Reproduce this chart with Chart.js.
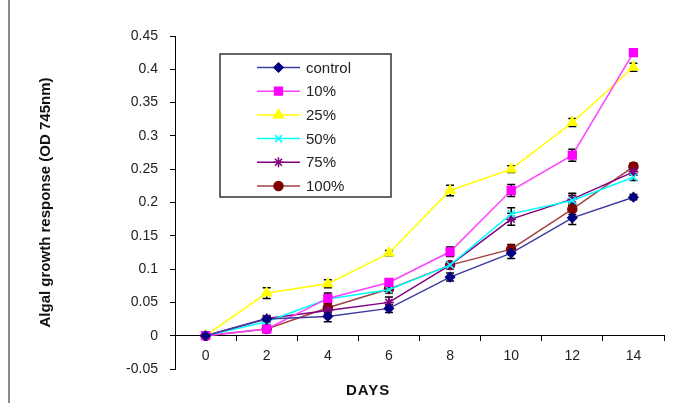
<!DOCTYPE html>
<html>
<head>
<meta charset="utf-8">
<script src="https://cdn.jsdelivr.net/npm/chart.js@4.4.1/dist/chart.umd.min.js"></script>
<style>
  html, body { margin: 0; padding: 0; background: #fff; }
  #wrap { position: relative; width: 680px; height: 403px; }
  #frame { position: absolute; left: 8px; top: 0; width: 0; height: 403px; border-left: 2px solid #8a8a8a; }
  #xTitle { position: absolute; left: 346px; top: 381px; font: bold 15px "Liberation Sans", Arial, sans-serif; letter-spacing: 1px; color: #111; }
</style>
</head>
<body>
<div id="wrap">
  <canvas id="growthChart" width="680" height="403"></canvas>
  <div id="frame"></div>
  <div id="xTitle">DAYS</div>
</div>
<script>
// ---- data ----
const days = ['0', '2', '4', '6', '8', '10', '12', '14'];
const seriesNames = ['control', '10%', '25%', '50%', '75%', '100%'];

const controlVals = [0, 0.025, 0.029, 0.041, 0.088, 0.124, 0.177, 0.208];
const pct10Vals   = [0, 0.010, 0.056, 0.080, 0.126, 0.218, 0.271, 0.425];
const pct25Vals   = [0, 0.064, 0.078, 0.124, 0.218, 0.250, 0.320, 0.403];
const pct50Vals   = [0, 0.021, 0.055, 0.069, 0.106, 0.183, 0.203, 0.238];
const pct75Vals   = [0, 0.026, 0.038, 0.050, 0.106, 0.175, 0.205, 0.246];
const pct100Vals  = [0, 0.010, 0.042, 0.070, 0.106, 0.130, 0.190, 0.254];

// error bar half-heights
const controlErr = [0, 0.004, 0.008, 0.006, 0.006, 0.008, 0.010, 0.004];
const pct10Err   = [0, 0.004, 0.008, 0.005, 0.007, 0.009, 0.009, 0.004];
const pct25Err   = [0, 0.008, 0.006, 0.004, 0.008, 0.005, 0.006, 0.006];
const pct50Err   = [0, 0.004, 0.005, 0.005, 0.005, 0.009, 0.008, 0.005];
const pct75Err   = [0, 0.004, 0.006, 0.008, 0.005, 0.009, 0.009, 0.005];
const pct100Err  = [0, 0.004, 0.007, 0.005, 0.005, 0.007, 0.008, 0.005];

const FONT = '"Liberation Sans", Arial, sans-serif';

function series(label, data, err, line, marker, style, radius) {
    return {
        label: label, data: data, errors: err,
        borderColor: line, borderWidth: 1.5,
        pointStyle: style, pointRadius: radius, pointHoverRadius: radius,
        pointBackgroundColor: marker, pointBorderColor: marker, pointBorderWidth: 1.5,
        tension: 0, fill: false
    };
}

const datasets = [
    series(seriesNames[0], controlVals, controlErr, '#3c3ca0', '#000080', 'rectRot', 4.5),
    series(seriesNames[1], pct10Vals, pct10Err, '#ff40ff', '#ff00ff', 'rect', 5.5),
    series(seriesNames[2], pct25Vals, pct25Err, '#ffff00', '#ffff00', 'triangle', 5.5),
    series(seriesNames[3], pct50Vals, pct50Err, '#00ffff', '#00ffff', 'crossRot', 5),
    series(seriesNames[4], pct75Vals, pct75Err, '#800080', '#800080', 'star', 5),
    series(seriesNames[5], pct100Vals, pct100Err, '#a04040', '#800000', 'circle', 4.5)
];

// black I-shaped error bars, drawn behind the markers
const errorBars = {
    id: 'errorBars',
    beforeDatasetsDraw(chart) {
        const ctx = chart.ctx;
        const y = chart.scales.y;
        ctx.save();
        ctx.strokeStyle = '#000';
        ctx.lineWidth = 1.5;
        chart.data.datasets.forEach((ds, i) => {
            const meta = chart.getDatasetMeta(i);
            ds.data.forEach((v, j) => {
                const e = ds.errors[j];
                if (!e) return;
                const px = meta.data[j].x;
                const top = y.getPixelForValue(v + e);
                const bot = y.getPixelForValue(v - e);
                ctx.beginPath();
                ctx.moveTo(px, top); ctx.lineTo(px, bot);
                ctx.moveTo(px - 4, top); ctx.lineTo(px + 4, top);
                ctx.moveTo(px - 4, bot); ctx.lineTo(px + 4, bot);
                ctx.stroke();
            });
        });
        ctx.restore();
    }
};

// boxed legend sitting inside the plot, like the original
const boxLegend = {
    id: 'boxLegend',
    afterDraw(chart) {
        const ctx = chart.ctx;
        ctx.save();
        ctx.fillStyle = '#fff';
        ctx.fillRect(220, 54, 171, 143);
        ctx.strokeStyle = '#333';
        ctx.lineWidth = 1.5;
        ctx.strokeRect(220, 54, 171, 143);
        chart.data.datasets.forEach((ds, i) => {
            const ry = 67.5 + i * 23.7;
            ctx.strokeStyle = ds.borderColor;
            ctx.lineWidth = 1.5;
            ctx.beginPath();
            ctx.moveTo(257, ry); ctx.lineTo(300, ry);
            ctx.stroke();
            ctx.fillStyle = ds.pointBackgroundColor;
            ctx.strokeStyle = ds.pointBorderColor;
            Chart.helpers.drawPoint(ctx, { pointStyle: ds.pointStyle, radius: ds.pointRadius, rotation: 0, borderWidth: 1.5 }, 278.5, ry);
            ctx.fillStyle = '#222';
            ctx.font = '15px ' + FONT;
            ctx.textBaseline = 'middle';
            ctx.textAlign = 'left';
            ctx.fillText(ds.label, 306, ry + 1);
        });
        ctx.restore();
    }
};

new Chart(document.getElementById('growthChart').getContext('2d'), {
    type: 'line',
    data: { labels: days, datasets: datasets },
    options: {
        responsive: false,
        animation: false,
        layout: { padding: { left: 0, right: 16, top: 36, bottom: 34 } },
        plugins: { legend: { display: false }, tooltip: { enabled: false } },
        scales: {
            x: {
                type: 'category',
                position: { y: 0 },
                offset: true,
                grid: { offset: true, drawOnChartArea: false, drawTicks: true, tickLength: 5, color: '#000', lineWidth: 1 },
                border: { display: true, color: '#000', width: 1 },
                ticks: { color: '#222', font: { family: FONT, size: 14 }, padding: 7, maxRotation: 0 }
            },
            y: {
                min: -0.05, max: 0.45,
                afterFit(scale) { scale.width = 175; },
                grid: { drawOnChartArea: false, drawTicks: true, tickLength: 5, color: '#000', lineWidth: 1 },
                border: { display: true, color: '#000', width: 1 },
                ticks: {
                    stepSize: 0.05, color: '#222', font: { family: FONT, size: 14 }, padding: 12,
                    callback: v => String(parseFloat(v.toFixed(2)))
                },
                title: {
                    display: true, text: 'Algal growth response (OD 745nm)', color: '#111',
                    font: { family: FONT, size: 15, weight: 'bold' }, padding: { top: 37, bottom: 0 }
                }
            }
        }
    },
    plugins: [errorBars, boxLegend]
});
</script>
</body>
</html>
